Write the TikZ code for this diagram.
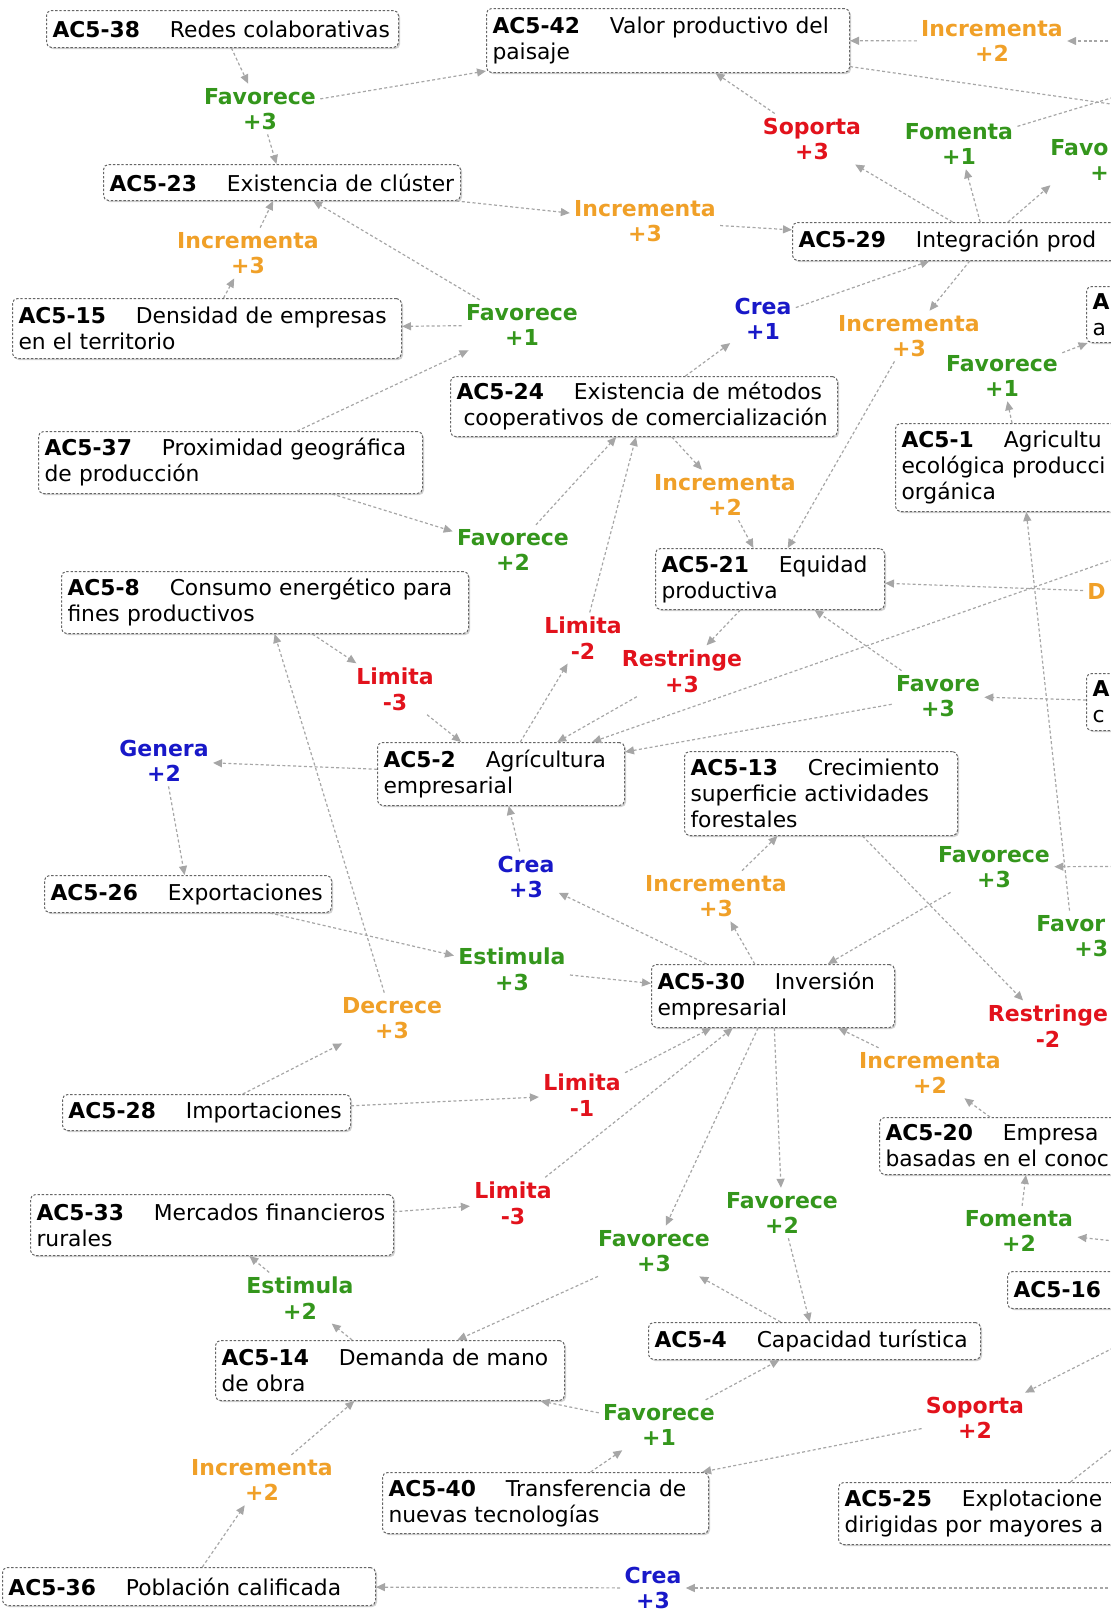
\documentclass[tikz,border=0pt]{standalone}
\usepackage{fontspec}
\setmainfont{DejaVu Sans}
\usetikzlibrary{arrows.meta,shadows}

\definecolor{relgreen}{RGB}{52,150,28}
\definecolor{relorange}{RGB}{240,160,40}
\definecolor{relred}{RGB}{226,18,28}
\definecolor{relblue}{RGB}{24,24,200}
\newcommand{\acode}[1]{\textbf{#1}\hspace{15pt}}

\begin{document}
\begin{tikzpicture}[x=0.5pt,y=-0.5pt,
  concept/.style={draw=black!60,line width=0.5pt,dash pattern=on 1.2pt off 0.9pt,
    rounded corners=2.5pt,fill=white,anchor=north west,align=left,
    inner xsep=3pt,inner ysep=1pt,font=\fontsize{10.9}{13}\selectfont,
    drop shadow={shadow xshift=0.8pt,shadow yshift=-0.8pt,opacity=0.3,fill=black!60}},
  rel/.style={align=center,inner sep=2pt,font=\fontsize{11}{12.8}\selectfont\bfseries},
  link/.style={draw=black!35,line width=0.6pt,dash pattern=on 1.5pt off 1.2pt,
    -{Triangle[length=4.5pt,width=4pt]}}]
\path[use as bounding box,clip] (0,0) rectangle (1111,1612);

% ---------------- concepts ----------------
\node[concept,text width=170pt,minimum height=18.5pt] (n38) at (46,10) {\acode{AC5-38}Redes colaborativas};
\node[concept,text width=175.5pt,minimum height=32pt] (n42) at (486,8) {\acode{AC5-42}Valor productivo del\\paisaje};
\node[concept,text width=172.5pt,minimum height=18pt] (n23) at (103,164) {\acode{AC5-23}Existencia de clúster};
\node[concept,text width=187pt,minimum height=19pt] (n29) at (792,222) {\acode{AC5-29}Integración prod};
\node[concept,text width=188.5pt,minimum height=30pt] (n15) at (12,298) {\acode{AC5-15}Densidad de empresas\\en el territorio};
\node[concept,text width=69pt,minimum height=28pt] (nA) at (1086,286) {\textbf{A}\\a};
\node[concept,text width=187.5pt,minimum height=30pt] (n24) at (450,376) {\acode{AC5-24}Existencia de métodos\\\hspace*{3.5pt}cooperativos de comercialización};
\node[concept,text width=186pt,minimum height=31pt] (n37) at (38,431) {\acode{AC5-37}Proximidad geográfica\\de producción};
\node[concept,text width=120pt,minimum height=44pt] (n1) at (895,423) {\acode{AC5-1}Agricultu\\ecológica producci\\orgánica};
\node[concept,text width=108.5pt,minimum height=30.5pt] (n21) at (655,548) {\acode{AC5-21}Equidad\\productiva};
\node[concept,text width=197.5pt,minimum height=31pt] (n8) at (61,571) {\acode{AC5-8}Consumo energético para\\fines productivos};
\node[concept,text width=69pt,minimum height=28.5pt] (nAc) at (1086,673) {\textbf{A}\\c};
\node[concept,text width=117.5pt,minimum height=31.5pt] (n2) at (377,742) {\acode{AC5-2}Agrícultura\\empresarial};
\node[concept,text width=130.5pt,minimum height=42pt] (n13) at (684,751) {\acode{AC5-13}Crecimiento\\superficie actividades\\forestales};
\node[concept,text width=137.5pt,minimum height=18.5pt] (n26) at (44,875) {\acode{AC5-26}Exportaciones};
\node[concept,text width=115.5pt,minimum height=31.5pt] (n30) at (651,964) {\acode{AC5-30}Inversión\\empresarial};
\node[concept,text width=138pt,minimum height=18pt] (n28) at (62,1094) {\acode{AC5-28}Importaciones};
\node[concept,text width=144pt,minimum height=28.5pt] (n20) at (879,1117) {\acode{AC5-20}Empresa\\basadas en el conoc};
\node[concept,text width=175.5pt,minimum height=30.5pt] (n33) at (30,1194) {\acode{AC5-33}Mercados financieros\\rurales};
\node[concept,text width=94pt,minimum height=18.5pt] (n16) at (1007,1271) {\textbf{AC5-16}};
\node[concept,text width=168.5pt,minimum height=30pt] (n14) at (215,1340) {\acode{AC5-14}Demanda de mano\\de obra};
\node[concept,text width=160pt,minimum height=18.5pt] (n4) at (648,1322) {\acode{AC5-4}Capacidad turística};
\node[concept,text width=157pt,minimum height=30.5pt] (n40) at (382,1472) {\acode{AC5-40}Transferencia de\\nuevas tecnologías};
\node[concept,text width=186pt,minimum height=31pt] (n25) at (838,1482) {\acode{AC5-25}Explotacione\\dirigidas por mayores a};
\node[concept,text width=180.5pt,minimum height=19pt] (n36) at (2,1567) {\acode{AC5-36}Población calificada};

% ---------------- relation labels ----------------
\node[rel,relgreen] (l1) at (260,109) {Favorece\\+3};
\node[rel,relorange] (l2) at (992,41) {Incrementa\\+2};
\node[rel,relred] (l3) at (812,139) {Soporta\\+3};
\node[rel,relgreen] (l4) at (959,144) {Fomenta\\+1};
\node[rel,relgreen,anchor=west,align=left] (l5) at (1046,160) {Favo\\\hspace*{20pt}+};
\node[rel,relorange] (l6) at (645,221) {Incrementa\\+3};
\node[rel,relorange] (l7) at (248,253) {Incrementa\\+3};
\node[rel,relgreen] (l8) at (522,325) {Favorece\\+1};
\node[rel,relblue] (l9) at (763,319) {Crea\\+1};
\node[rel,relorange] (l10) at (909,336) {Incrementa\\+3};
\node[rel,relgreen] (l11) at (1002,376) {Favorece\\+1};
\node[rel,relorange] (l12) at (725,495) {Incrementa\\+2};
\node[rel,relgreen] (l13) at (513,550) {Favorece\\+2};
\node[rel,relorange,anchor=west] (l14) at (1083,591) {D};
\node[rel,relred] (l15) at (583,638) {Limita\\-2};
\node[rel,relred] (l16) at (682,671) {Restringe\\+3};
\node[rel,relred] (l17) at (395,689) {Limita\\-3};
\node[rel,relgreen] (l18) at (938,696) {Favore\\+3};
\node[rel,relblue] (l19) at (164,761) {Genera\\+2};
\node[rel,relblue] (l20) at (526,877) {Crea\\+3};
\node[rel,relorange] (l21) at (716,896) {Incrementa\\+3};
\node[rel,relgreen] (l22) at (994,867) {Favorece\\+3};
\node[rel,relgreen,anchor=west,align=left] (l23) at (1032,936) {Favor\\\hspace*{19pt}+3};
\node[rel,relgreen] (l24) at (512,969) {Estimula\\+3};
\node[rel,relorange] (l25) at (392,1018) {Decrece\\+3};
\node[rel,relred] (l26) at (1048,1026) {Restringe\\-2};
\node[rel,relorange] (l27) at (930,1073) {Incrementa\\+2};
\node[rel,relred] (l28) at (582,1095) {Limita\\-1};
\node[rel,relred] (l29) at (513,1203) {Limita\\-3};
\node[rel,relgreen] (l30) at (782,1213) {Favorece\\+2};
\node[rel,relgreen] (l31) at (1019,1231) {Fomenta\\+2};
\node[rel,relgreen] (l32) at (654,1251) {Favorece\\+3};
\node[rel,relgreen] (l33) at (300,1298) {Estimula\\+2};
\node[rel,relred] (l34) at (975,1418) {Soporta\\+2};
\node[rel,relgreen] (l35) at (659,1425) {Favorece\\+1};
\node[rel,relorange] (l36) at (262,1480) {Incrementa\\+2};
\node[rel,relblue] (l37) at (653,1588) {Crea\\+3};

% ---------------- ends beyond the right edge ----------------
\coordinate (oI2) at (1200,41);
\coordinate (oA) at (1250,124);
\coordinate (oB) at (1250,56);
\coordinate (oD) at (1200,529);
\coordinate (oF3) at (1200,866);
\coordinate (oF2) at (1200,1250);
\coordinate (oS) at (1200,1304);
\coordinate (oE) at (1200,1380);
\coordinate (oC) at (1200,1588);

% ---------------- links ----------------
\foreach \a/\b in {n38/l1, l1/n23, l1/n42, oI2/l2, l2/n42, n42/oA, n29/l3, l3/n42,
    n29/l4, l4/oB, n29/l5, n23/l6, l6/n29, n15/l7, l7/n23, n37/l8, l8/n15, l8/n23,
    n24/l9, l9/n29, n29/l10, l10/n21, n1/l11, l11/nA, n24/l12, l12/n21, n37/l13,
    l13/n24, l14/n21, oD/n2, n2/l15, l15/n24, n21/l16, l16/n2, n8/l17, l17/n2,
    nAc/l18, l18/n21, l18/n2, n2/l19, l19/n26, n30/l20, l20/n2, n30/l21, l21/n13,
    oF3/l22, l22/n30, l23/n1, n13/l26, n26/l24, l24/n30, n28/l25, l25/n8, n20/l27,
    l27/n30, n28/l28, l28/n30, n33/l29, l29/n30, n30/l32, n4/l32, l32/n14, n30/l30,
    l30/n4, oF2/l31, l31/n20, oS/l34, l34/n40, n25/oE, n40/l35, l35/n4, l35/n14,
    n14/l33, l33/n33, n36/l36, l36/n14, oC/l37, l37/n36}
  \draw[link] (\a) -- (\b);
\end{tikzpicture}
\end{document}
